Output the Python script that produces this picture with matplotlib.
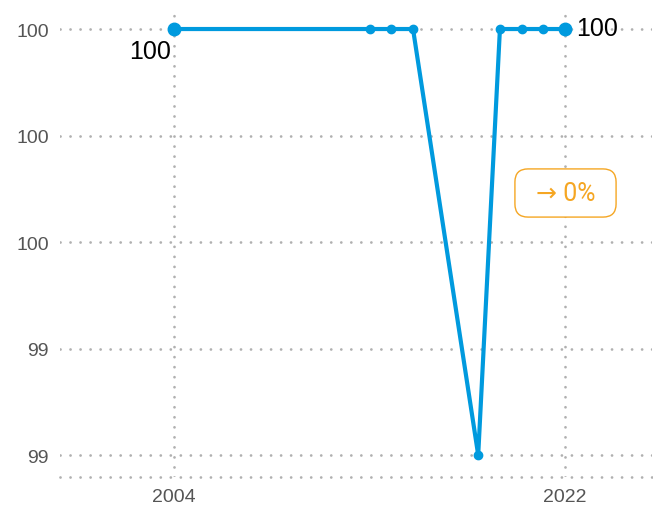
import matplotlib
matplotlib.use("Agg")
import matplotlib.pyplot as plt
from matplotlib.patches import FancyBboxPatch
from matplotlib.ticker import FormatStrFormatter

years = [2004, 2013, 2014, 2015, 2018, 2019, 2020, 2021, 2022]
values = [100, 100, 100, 100, 99.2, 100, 100, 100, 100]
yticks = [99.2, 99.4, 99.6, 99.8, 100]
xticks = [2004, 2022]
change_label = "\u2192 0%"

blue = "#009ADE"
orange = "#F5A623"
grey = "#b0b0b0"

plt.rcParams['font.family'] = ['Liberation Sans', 'DejaVu Sans']

W, H = 653, 510
fig = plt.figure(figsize=(W / 100, H / 100), dpi=100)
ax = fig.add_axes([60/W, 1 - 478/H, 592/W, 468/H])

ax.plot(years, values, color=blue, lw=3, zorder=3)
ax.plot(years[1:-1], values[1:-1], 'o', color=blue, ms=6, zorder=4)
ax.plot([years[0], years[-1]], [values[0], values[-1]], 'o', color=blue, ms=9, zorder=4)

ymin, ymax = 99.1587, 100.0376
ax.set_xlim(1998.75, 2026.0)
ax.set_ylim(ymin, ymax)
ax.set_xticks(xticks)
ax.set_yticks(yticks)
ax.yaxis.set_major_formatter(FormatStrFormatter('%.0f'))
ax.tick_params(length=0, labelsize=14, colors='#555555', pad=8)

dots = (0, (0.01, 3.6))
ax.grid(True, color=grey, lw=2, linestyle=dots, dash_capstyle='round')
for s in ax.spines.values():
    s.set_visible(False)
ax.axhline(ymin, color=grey, lw=2, linestyle=dots, dash_capstyle='round', clip_on=False)

ax.annotate(f"{values[0]:.0f}", (years[0], values[0]), xytext=(-2, -7),
            textcoords='offset points', ha='right', va='top', fontsize=18, color='black')
ax.annotate(f"{values[-1]:.0f}", (years[-1], values[-1]), xytext=(8, 1),
            textcoords='offset points', ha='left', va='center', fontsize=18, color='black')

# change badge
box = FancyBboxPatch((527/W, 1 - 206/H), 77/W, 24/H, transform=fig.transFigure,
                     boxstyle='round,pad=0.0185,rounding_size=0.02', mutation_aspect=W/H,
                     fc='white', ec=orange, lw=1, zorder=5)
fig.patches.append(box)
fig.text(566/W, 1 - 194/H, change_label, ha='center', va='center',
         fontsize=18, color=orange, family=['Roboto', 'DejaVu Sans'], zorder=6)

fig.savefig("out.png", dpi=100)
